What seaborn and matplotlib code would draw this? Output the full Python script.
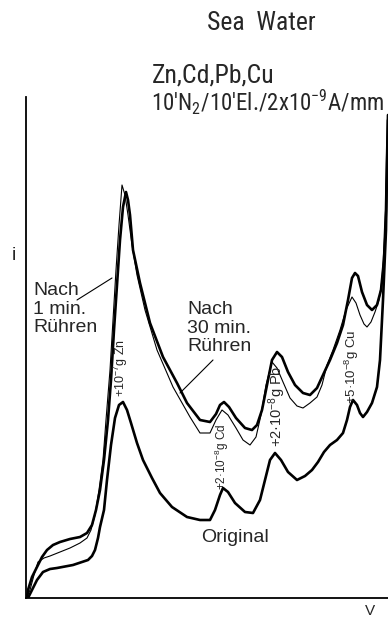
import matplotlib
matplotlib.use("Agg")
import matplotlib.pyplot as plt
import seaborn as sns
import pandas as pd

# Polarogram of sea water (arbitrary units: potential / current)
x_30min = [1, 2, 6, 11, 16, 21, 27, 34, 44, 54, 61, 66, 70, 74, 78, 82, 85, 88, 91, 94, 97, 100,
           102, 104, 107, 114, 124, 137, 151, 161, 174, 184, 190, 194, 198, 203, 210, 219, 226, 231,
           236, 241, 246, 251, 256, 262, 269, 277, 284, 291, 297, 304, 311, 317, 322, 326, 329, 332,
           336, 341, 346, 351, 355, 358, 360, 361, 362]
i_30min = [1, 8, 21, 31, 41, 48, 53, 56, 59, 61, 65, 73, 88, 108, 138, 178, 218, 268, 313, 358, 391, 406,
           398, 383, 348, 315, 275, 241, 215, 195, 178, 176, 184, 193, 196, 191, 180, 170, 168, 173,
           188, 213, 238, 246, 241, 226, 213, 205, 203, 210, 223, 238, 255, 273, 298, 320, 325, 322,
           306, 293, 288, 293, 308, 338, 388, 438, 483]

x_1min = [1, 4, 8, 12, 18, 24, 34, 44, 54, 61, 65, 69, 73, 77, 80, 84, 87, 90, 93, 96, 99, 102, 106,
          111, 119, 131, 147, 164, 174, 184, 190, 196, 202, 210, 217, 224, 230, 235, 240, 246, 251,
          257, 264, 271, 277, 284, 291, 296, 301, 307, 314, 320, 326, 330, 334, 338, 341, 345, 349,
          353, 356, 359, 361, 362]
i_1min = [1, 8, 23, 36, 40, 42, 46, 50, 55, 60, 68, 83, 108, 138, 178, 228, 278, 328, 373, 413, 403, 383,
          353, 323, 288, 248, 211, 181, 165, 165, 178, 188, 183, 170, 158, 153, 161, 183, 213, 236,
          230, 216, 200, 192, 190, 195, 201, 213, 233, 248, 268, 288, 301, 295, 283, 274, 271, 276,
          286, 298, 318, 368, 438, 483]

x_orig = [2, 6, 11, 17, 24, 31, 47, 62, 66, 69, 72, 74, 78, 81, 85, 89, 93, 97, 101, 105, 111, 117,
          126, 134, 146, 161, 174, 184, 189, 194, 197, 202, 209, 219, 227, 234, 239, 244, 249, 255,
          262, 271, 279, 286, 292, 298, 304, 311, 317, 321, 324, 327, 331, 334, 337, 341, 346, 351,
          354, 357, 360, 361, 362]
i_orig = [0, 8, 18, 26, 29, 30, 33, 38, 42, 48, 60, 71, 88, 118, 153, 180, 193, 196, 188, 175, 155, 138,
          120, 105, 91, 81, 78, 78, 88, 103, 110, 106, 95, 86, 85, 98, 118, 138, 145, 138, 126, 118,
          122, 128, 136, 146, 153, 158, 165, 178, 191, 198, 193, 185, 181, 186, 195, 211, 238, 298,
          368, 428, 478]

peak_labels = ["+10$^{-7}$g Zn", "+2·10$^{-8}$g Cd", "+2·10$^{-8}$g Pb", "+5·10$^{-8}$g Cu"]

sns.set_style("ticks")
plt.rcParams["font.family"] = ["Liberation Sans", "DejaVu Sans"]
plt.rcParams["mathtext.default"] = "regular"

W, H = 388, 619
fig = plt.figure(figsize=(W / 100, H / 100), dpi=100)
ax = fig.add_axes([26 / W, 21 / H, 362 / W, 501 / H])

curves = [
    (x_30min, i_30min, 1.9),
    (x_1min, i_1min, 0.8),
    (x_orig, i_orig, 1.9),
]
for xs, ys, lw in curves:
    df = pd.DataFrame({"U": xs, "i": ys})
    sns.lineplot(data=df, x="U", y="i", sort=False, estimator=None,
                 color="black", linewidth=lw, ax=ax)

ax.set_xlim(0, 362)
ax.set_ylim(0, 501)
ax.set_xticks([])
ax.set_yticks([])
ax.set_xlabel("")
ax.set_ylabel("")
sns.despine(ax=ax, top=True, right=True)
for s in ("left", "bottom"):
    ax.spines[s].set_linewidth(1.3)
    ax.spines[s].set_color("black")

# peak annotations (rotated)
label_pos = [(95, 230, 9), (196, 141, 8.5), (251, 192, 10.5), (326, 231, 9.5)]
for txt, (px, py, fs) in zip(peak_labels, label_pos):
    ax.text(px, py, txt, rotation=90, ha="center", va="center", fontsize=fs)

# curve labels with leader lines
leader = dict(arrowstyle="-", lw=0.8, color="black", shrinkA=0, shrinkB=0)
ax.text(7, 289, "Nach\n1 min.\nRühren", ha="left", va="center",
        fontsize=14, linespacing=1.1)
ax.annotate("", xy=(86, 320), xytext=(51, 298), arrowprops=leader)
ax.text(161, 270, "Nach\n30 min.\nRühren", ha="left", va="center",
        fontsize=14, linespacing=1.1)
ax.annotate("", xy=(154, 205), xytext=(187, 238), arrowprops=leader)
ax.text(209, 60, "Original", ha="center", va="center", fontsize=14)

# axis letters
fig.text(14 / W, 1 - 255 / H, "i", ha="center", va="center", fontsize=14)
fig.text(370 / W, 1 - 611 / H, "V", ha="center", va="center", fontsize=11)

# header
cond = dict(family=["Roboto Condensed", "DejaVu Sans"], fontstretch="condensed")
fig.text(261 / W, 1 - 23 / H, "Sea  Water", ha="center", va="center",
         fontsize=18.5, **cond)
fig.text(152 / W, 1 - 75 / H, "Zn,Cd,Pb,Cu", ha="left", va="center",
         fontsize=18.5, **cond)
fig.text(151 / W, 1 - 102 / H, "10'N$_2$/10'El./2x10$^{-9}$A/mm", ha="left",
         va="center", fontsize=16.5, **cond)

fig.savefig("out.png", dpi=100)
